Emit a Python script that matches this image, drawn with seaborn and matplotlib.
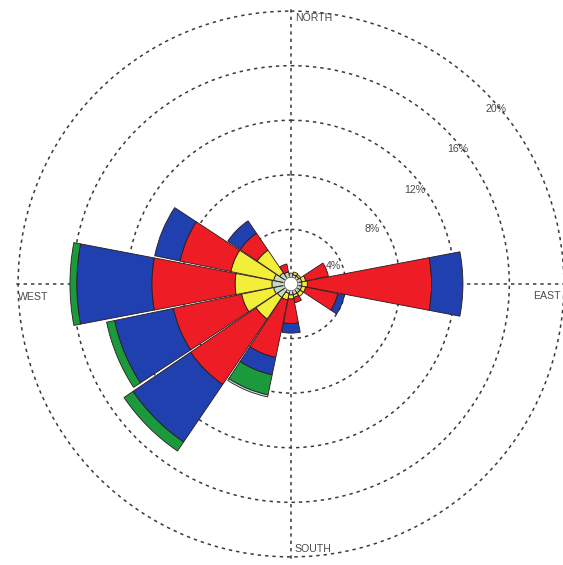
import numpy as np
import pandas as pd
import matplotlib
matplotlib.use("Agg")
import matplotlib.pyplot as plt
import seaborn as sns

# Wind directions (16 compass points, clockwise from north)
directions = ["N", "NNE", "NE", "ENE", "E", "ESE", "SE", "SSE",
              "S", "SSW", "SW", "WSW", "W", "WNW", "NW", "NNW"]
bearings = [0, 22.5, 45, 67.5, 90, 112.5, 135, 157.5,
            180, 202.5, 225, 247.5, 270, 292.5, 315, 337.5]

# Frequency (%) of each wind-speed class per direction
class_1 = [0.8, 0.7, 0.7, 0.8, 0.8, 0.8, 0.8, 0.8, 0.8, 0.7, 1.2, 1.3, 1.4, 1.3, 1.0, 0.9]
class_2 = [0.0, 0.2, 0.15, 0.3, 0.4, 0.3, 0.3, 0.2, 0.3, 0.5, 1.9, 2.4, 2.7, 3.2, 2.0, 0.0]
class_3 = [0.0, 0.0, 0.0, 1.7, 9.1, 2.4, 0.0, 0.4, 1.8, 4.3, 5.8, 5.1, 6.1, 3.8, 1.5, 0.6]
class_4 = [0.0, 0.0, 0.0, 0.0, 2.3, 0.5, 0.0, 0.0, 0.7, 1.3, 5.1, 4.4, 5.5, 1.9, 1.1, 0.0]
class_5 = [0.0, 0.0, 0.0, 0.0, 0.0, 0.0, 0.0, 0.0, 0.0, 1.5, 0.8, 0.6, 0.5, 0.0, 0.0, 0.0]
class_6 = [0.0, 0.0, 0.0, 0.0, 0.0, 0.0, 0.0, 0.0, 0.0, 0.15, 0.0, 0.0, 0.0, 0.0, 0.0, 0.0]
calm_radius = 0.5

ring_values = [4, 8, 12, 16, 20]
ring_labels = ["4%", "8%", "12%", "16%", "20%"]
compass_labels = ["NORTH", "EAST", "SOUTH", "WEST"]

class_colors = ["#c4dcc4", "#f2ee3a", "#ee1c24", "#1f40ae", "#1a9a3c", "#a8e4e0"]

sns.set_theme(style="white")
plt.rcParams["font.family"] = ["Liberation Sans", "DejaVu Sans"]

df = pd.DataFrame({"direction": directions, "bearing": bearings,
                   "c1": class_1, "c2": class_2, "c3": class_3,
                   "c4": class_4, "c5": class_5, "c6": class_6})

W, H = 563, 565
fig = plt.figure(figsize=(W / 100, H / 100), dpi=100)
cx, cy, rad = 291, 284, 277
ax = fig.add_axes([(cx - rad) / W, (H - cy - rad) / H, 2 * rad / W, 2 * rad / H],
                  projection="polar")
ax.set_theta_zero_location("N")
ax.set_theta_direction(-1)
ax.set_ylim(0, 20.3)
ax.set_axisbelow(True)

theta = np.deg2rad(df["bearing"].to_numpy())
width = np.deg2rad(21.6)
bottom = np.zeros(len(df))
for col, color in zip(["c1", "c2", "c3", "c4", "c5", "c6"], class_colors):
    vals = df[col].to_numpy()
    mask = vals > 0
    ax.bar(theta[mask], vals[mask], width=width, bottom=bottom[mask],
           color=color, edgecolor="#2a1a1a", linewidth=0.6, zorder=2)
    bottom = bottom + vals

# calm circle in the centre
t = np.linspace(0, 2 * np.pi, 200)
ax.fill(t, np.full_like(t, calm_radius), color="white", zorder=3)
ax.plot(t, np.full_like(t, calm_radius), color="#555555", lw=0.6, zorder=3)

# dashed rings and compass axes
ax.set_rticks(ring_values)
ax.set_yticklabels([])
ax.set_thetagrids([0, 90, 180, 270], labels=["", "", "", ""])
ax.grid(True, color="#3a3a3a", linestyle=(0, (2.2, 2.6)), linewidth=1.1)
ax.spines["polar"].set_visible(False)
ax.set_facecolor("white")
ax.tick_params(pad=0)

txt = dict(color="#4a4a4a", fontsize=7.6)
ring_pos = [(333, 266), (372, 229), (415, 190), (458, 149), (496, 109)]
for lab, (px, py) in zip(ring_labels, ring_pos):
    fig.text(px / W, 1 - py / H, lab, ha="center", va="center", **txt)

compass_pos = [(295, 18), (533, 296), (294, 549), (18, 297)]
for lab, (px, py) in zip(compass_labels, compass_pos):
    fig.text(px / W, 1 - py / H, lab, ha="left", va="center", **txt)

fig.savefig("out.png", dpi=100, facecolor="white")
